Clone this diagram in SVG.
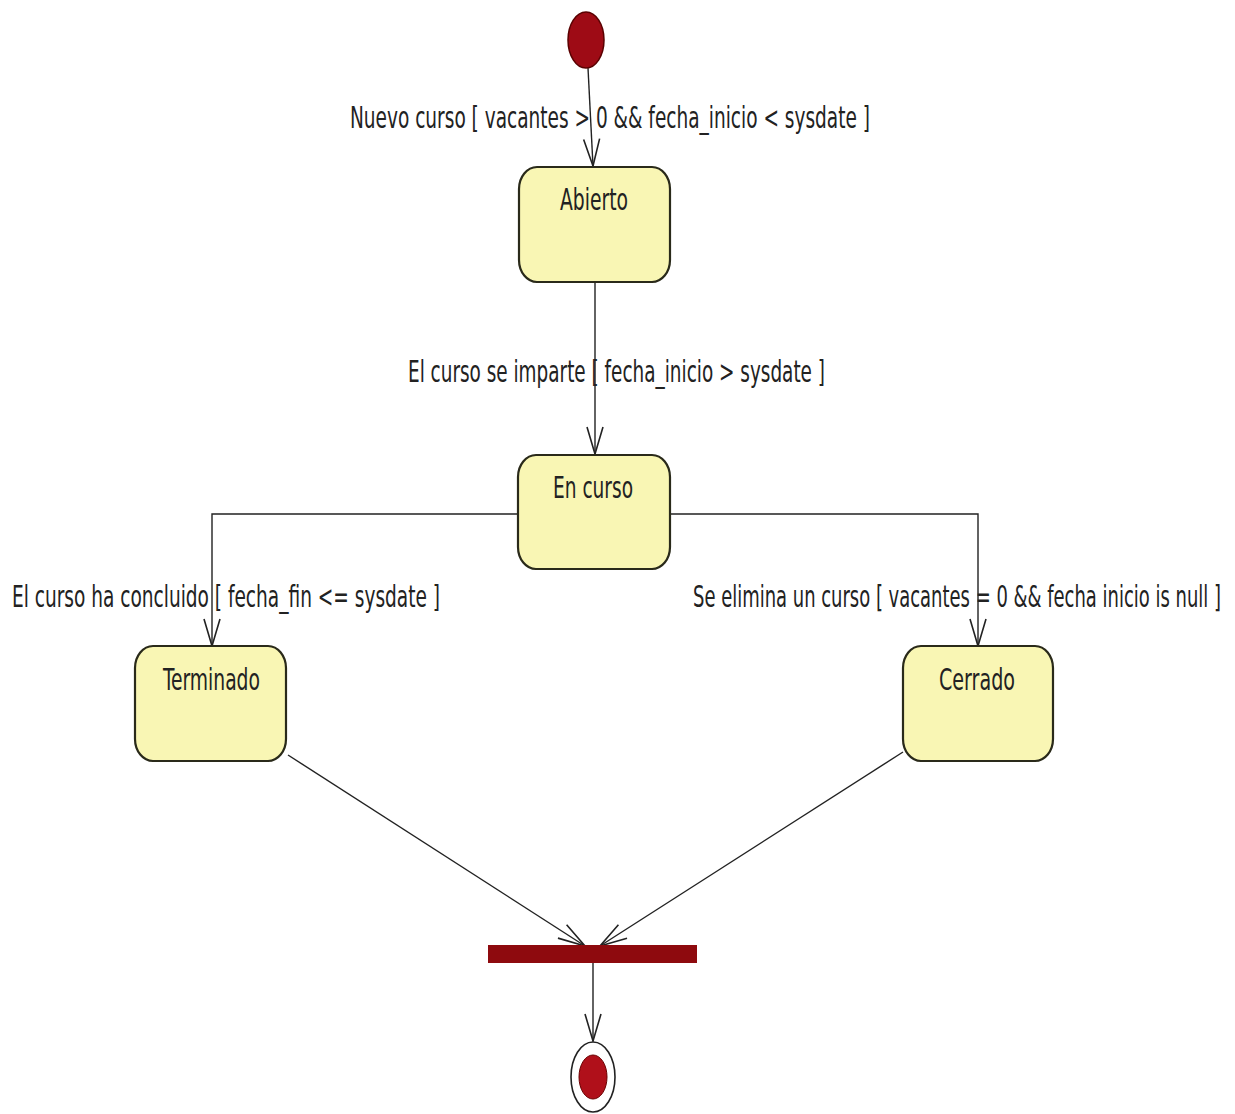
<svg xmlns="http://www.w3.org/2000/svg" width="1235" height="1114" viewBox="0 0 1235 1114">
<defs>
<style>
.state{fill:#F9F6B4;stroke:#2a2a1a;stroke-width:2.2}
.name{font-family:"DejaVu Sans Condensed","DejaVu Sans","Liberation Sans",sans-serif;font-size:30px;fill:#222;text-anchor:start}
.lbl{font-family:"DejaVu Sans Condensed","DejaVu Sans","Liberation Sans",sans-serif;font-size:30px;fill:#222;text-anchor:start}
.conn{fill:none;stroke:#222;stroke-width:1.4}
</style>
<marker id="open" viewBox="0 0 30 20" refX="28" refY="10" markerWidth="30" markerHeight="20" markerUnits="userSpaceOnUse" orient="auto">
<path d="M1,2 L28,10 L1,18" fill="none" stroke="#222" stroke-width="1.6"/>
</marker>
</defs>
<rect width="1235" height="1114" fill="#ffffff"/>
<g id="connectors">
<path class="conn" d="M588,68 L593,166" marker-end="url(#open)"/>
<path class="conn" d="M595,283 L595,454" marker-end="url(#open)"/>
<path class="conn" d="M518,514 L212,514 L212,646" marker-end="url(#open)"/>
<path class="conn" d="M671,514 L978,514 L978,646" marker-end="url(#open)"/>
<path class="conn" d="M288,755 L585,946" marker-end="url(#open)"/>
<path class="conn" d="M903,752 L600,946" marker-end="url(#open)"/>
<path class="conn" d="M593,963 L593,1041" marker-end="url(#open)"/>
<text class="lbl" x="350" y="128" textLength="520" lengthAdjust="spacingAndGlyphs">Nuevo curso [ vacantes &gt; 0 &amp;&amp; fecha_inicio &lt; sysdate ]</text>
<text class="lbl" x="408" y="382" textLength="417" lengthAdjust="spacingAndGlyphs">El curso se imparte [ fecha_inicio &gt; sysdate ]</text>
<text class="lbl" x="12" y="607" textLength="428" lengthAdjust="spacingAndGlyphs">El curso ha concluido [ fecha_fin &lt;= sysdate ]</text>
<text class="lbl" x="693" y="607" style="font-size:20px" transform="matrix(1,0,0,1.5,0,-303.5)" textLength="528" lengthAdjust="spacingAndGlyphs">Se elimina un curso [ vacantes = 0 &amp;&amp; fecha inicio is null ]</text>
</g>
<g id="start">
<ellipse cx="586" cy="40" rx="18" ry="28" fill="#9E0B15" stroke="#5a0000" stroke-width="1.5"/>
</g>
<g id="abierto">
<rect class="state" x="519" y="167" width="151" height="115" rx="18" ry="22"/>
<text class="name" x="560" y="210" textLength="68" lengthAdjust="spacingAndGlyphs">Abierto</text>
</g>
<g id="encurso">
<rect class="state" x="518" y="455" width="152" height="114" rx="18" ry="22"/>
<text class="name" x="553" y="498" textLength="80" lengthAdjust="spacingAndGlyphs">En curso</text>
</g>
<g id="terminado">
<rect class="state" x="135" y="646" width="151" height="115" rx="18" ry="22"/>
<text class="name" x="163" y="690" textLength="97" lengthAdjust="spacingAndGlyphs">Terminado</text>
</g>
<g id="cerrado">
<rect class="state" x="903" y="646" width="150" height="115" rx="18" ry="22"/>
<text class="name" x="939" y="690" textLength="76" lengthAdjust="spacingAndGlyphs">Cerrado</text>
</g>
<g id="join">
<rect x="488" y="945" width="209" height="18" fill="#8E0A0E"/>
</g>
<g id="final">
<ellipse cx="593" cy="1077" rx="22" ry="35" fill="#ffffff" stroke="#222" stroke-width="1.6"/>
<ellipse cx="593" cy="1077" rx="14" ry="22" fill="#B0101A" stroke="#6a0000" stroke-width="1"/>
</g>
</svg>
